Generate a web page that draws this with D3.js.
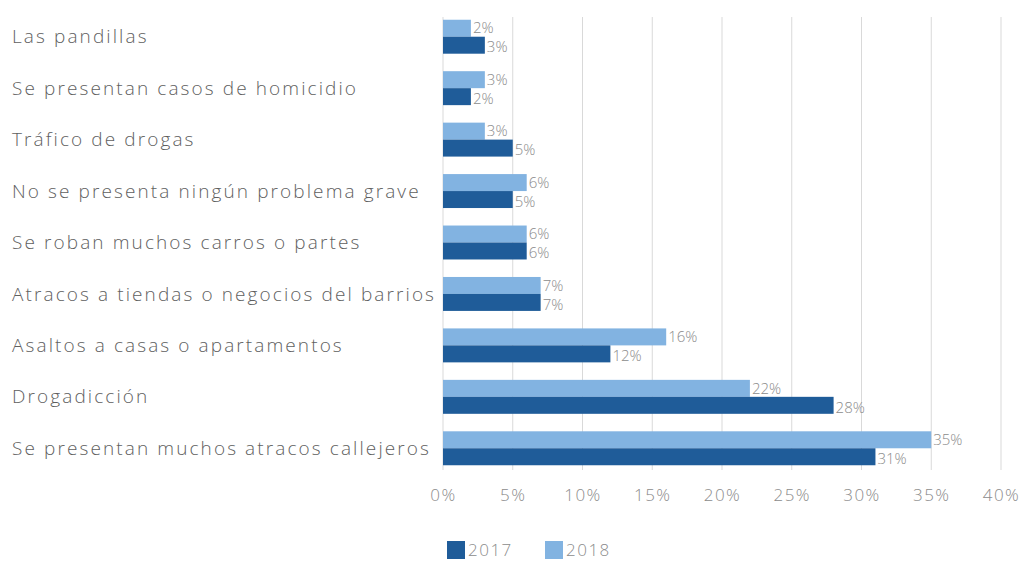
<!DOCTYPE html>
<html>
<head>
<meta charset="utf-8">
<script src="https://cdn.jsdelivr.net/npm/d3@7"></script>
<style>
  body { margin: 0; background: #fff; }
  text { font-family: "Open Sans", sans-serif; font-weight: 300; }
</style>
</head>
<body>
<svg id="chart" width="1029" height="564"></svg>
<script>
const categories = [
  "Las pandillas",
  "Se presentan casos de homicidio",
  "Tráfico de drogas",
  "No se presenta ningún problema grave",
  "Se roban muchos carros o partes",
  "Atracos a tiendas o negocios del barrios",
  "Asaltos a casas o apartamentos",
  "Drogadicción",
  "Se presentan muchos atracos callejeros"
];
const values2017 = [3, 2, 5, 5, 6, 7, 12, 28, 31];
const values2018 = [2, 3, 3, 6, 6, 7, 16, 22, 35];
const series = ["2018", "2017"];
const tickValues = [0, 5, 10, 15, 20, 25, 30, 35, 40];

const colors = { "2017": "#1f5c99", "2018": "#82b3e1" };

const svg = d3.select("#chart");
const x = d3.scaleLinear().domain([0, 40]).range([443, 1001]);
const y = d3.scaleBand().domain(categories).range([11, 474]).paddingInner(0.34).paddingOuter(0.17);
const ySub = d3.scaleBand().domain(series).range([0, y.bandwidth()]);

// gridlines
svg.append("g")
  .selectAll("line")
  .data(tickValues)
  .join("line")
  .attr("x1", d => x(d)).attr("x2", d => x(d))
  .attr("y1", 17).attr("y2", 470)
  .attr("stroke", "#d9d9d9").attr("stroke-width", 1);

// x axis tick labels
const xAxis = d3.axisBottom(x).tickValues(tickValues).tickFormat(d => d + "%").tickSize(0);
svg.append("g")
  .attr("transform", "translate(0,486)")
  .call(xAxis)
  .call(g => g.select(".domain").remove())
  .selectAll("text")
  .attr("font-family", "Open Sans, sans-serif")
  .attr("font-weight", 300)
  .attr("font-size", 17)
  .attr("letter-spacing", 1.5)
  .attr("fill", "#8c8c8c");

// category labels
svg.append("g")
  .selectAll("text")
  .data(categories)
  .join("text")
  .attr("x", 12)
  .attr("y", d => y(d) + y.bandwidth() / 2)
  .attr("dy", "0.35em")
  .attr("font-size", 19)
  .attr("letter-spacing", 2.1)
  .attr("fill", "#5f5f5f")
  .text(d => d);

const rows = categories.map((c, i) => ({ cat: c, "2017": values2017[i], "2018": values2018[i] }));

const groups = svg.append("g")
  .selectAll("g")
  .data(rows)
  .join("g")
  .attr("transform", d => `translate(0,${y(d.cat)})`);

groups.selectAll("rect")
  .data(d => series.map(s => ({ s, v: d[s] })))
  .join("rect")
  .attr("x", x(0))
  .attr("y", d => ySub(d.s))
  .attr("width", d => x(d.v) - x(0))
  .attr("height", ySub.bandwidth())
  .attr("fill", d => colors[d.s]);

groups.selectAll("text")
  .data(d => series.map(s => ({ s, v: d[s] })))
  .join("text")
  .attr("x", d => x(d.v) + 2)
  .attr("y", d => ySub(d.s) + ySub.bandwidth() / 2 + (d.s === "2018" ? 0 : 2))
  .attr("dy", "0.35em")
  .attr("font-size", 15)
  .attr("fill", "#8c8c8c")
  .text(d => d.v + "%");

// legend
const legend = svg.append("g").attr("transform", "translate(447,541)");
const legendItems = ["2017", "2018"];
legendItems.forEach((s, i) => {
  const g = legend.append("g").attr("transform", `translate(${i * 98},0)`);
  g.append("rect").attr("width", 18).attr("height", 18).attr("fill", colors[s]);
  g.append("text").attr("x", 21).attr("y", 9).attr("dy", "0.35em")
    .attr("font-size", 17).attr("letter-spacing", 1.5).attr("fill", "#8c8c8c").text(s);
});
</script>
</body>
</html>
